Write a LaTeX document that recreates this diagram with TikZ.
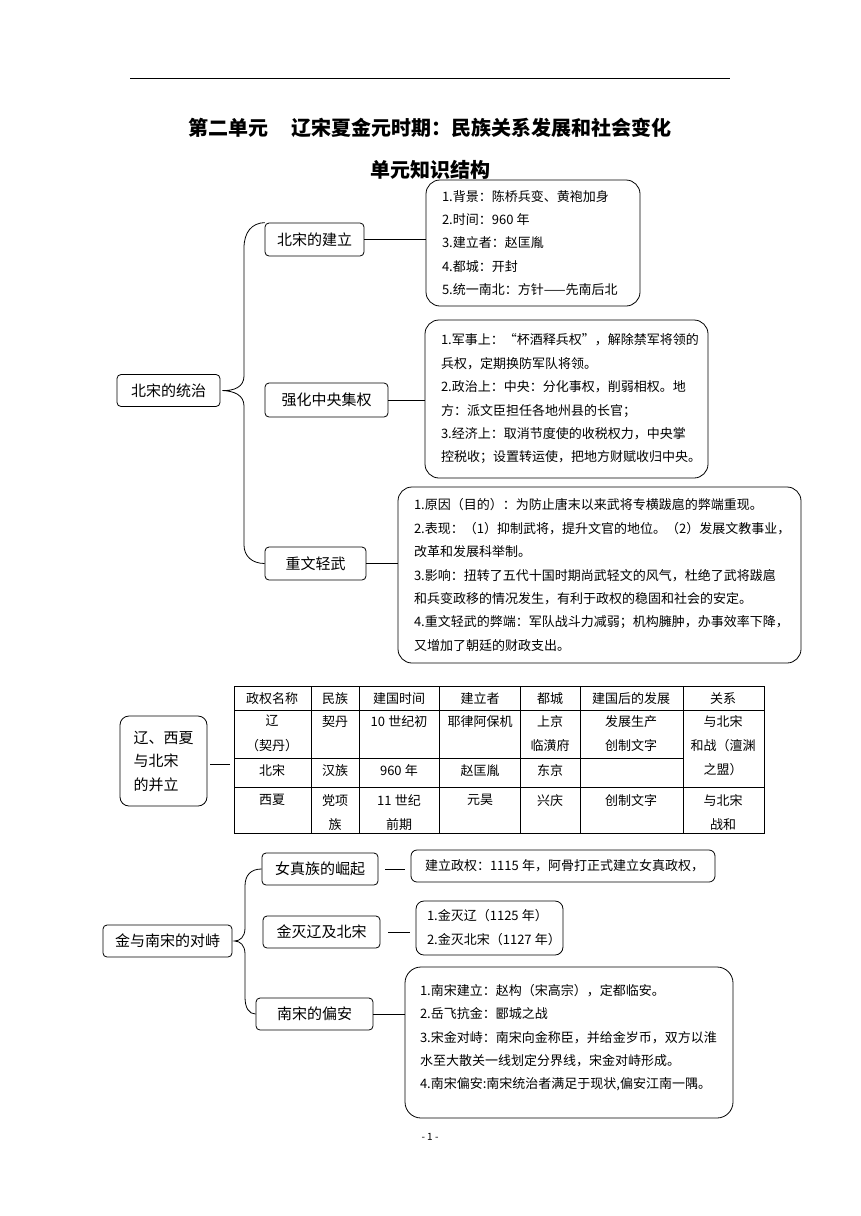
\documentclass[tikz,border=0pt]{standalone}
\usepackage{fontspec}
\setmainfont{Noto Sans CJK SC}
\newcommand{\cjsp}{\kern0.25em}

\begin{document}
\begin{tikzpicture}[x=1pt, y=-1pt,
    topic/.style={draw, line width=0.8pt, rounded corners=4pt, inner sep=0pt,
                  minimum height=32pt, font=\fontsize{15}{18}\selectfont},
    detail/.style={draw, line width=0.8pt, rounded corners=14pt, align=left,
                   inner ysep=0pt, font=\fontsize{13}{23.4}\selectfont},
    cell/.style={anchor=north, inner sep=0pt, align=center,
                 font=\fontsize{13}{24.3}\selectfont},
    link/.style={line width=0.8pt},
    brace/.style={line width=0.8pt}
]
    \useasboundingbox (0,0) rectangle (860,1216);
    \draw[line width=0.8pt] (130,78) -- (730,78);
    \node[font=\fontsize{20}{23}\selectfont\bfseries] (title) at (430,128)
        {第二单元\hspace{1.2em}辽宋夏金元时期：民族关系发展和社会变化};
    \node[font=\fontsize{20}{23}\selectfont\bfseries] (subtitle) at (430,170) {单元知识结构};

    % 北宋的统治
    \node[topic, minimum width=103pt] (song) at (168.5,390.5) {北宋的统治};
    \node[topic, minimum width=99pt, minimum height=33pt] (found) at (314.5,239.5) {北宋的建立};
    \node[topic, minimum width=123pt, minimum height=34pt] (central) at (326.5,400) {强化中央集权};
    \node[topic, minimum width=101pt, minimum height=33pt] (civil) at (315.5,563.5) {重文轻武};

    \node[detail, text width=182pt, inner xsep=16pt, minimum height=126pt] (foundinfo) at (533,243)
        {1.背景：陈桥兵变、黄袍加身\\2.时间：960\cjsp 年\\3.建立者：赵匡胤\\4.都城：开封\\5.统一南北：方针——先南后北};
    \node[detail, text width=251pt, inner xsep=16pt, minimum height=158pt] (centralinfo) at (566.5,399)
        {1.军事上：“杯酒释兵权”，解除禁军将领的\\兵权，定期换防军队将领。\\2.政治上：中央：分化事权，削弱相权。地\\方：派文臣担任各地州县的长官；\\3.经济上：取消节度使的收税权力，中央掌\\控税收；设置转运使，把地方财赋收归中央。};
    \node[detail, text width=371pt, inner xsep=16pt, minimum height=176pt] (civilinfo) at (599.5,575)
        {1.原因（目的）：为防止唐末以来武将专横跋扈的弊端重现。\\2.表现：（1）抑制武将，提升文官的地位。（2）发展文教事业，\\改革和发展科举制。\\3.影响：扭转了五代十国时期尚武轻文的风气，杜绝了武将跋扈\\和兵变政移的情况发生，有利于政权的稳固和社会的安定。\\4.重文轻武的弊端：军队战斗力减弱；机构臃肿，办事效率下降，\\又增加了朝廷的财政支出。};

    \draw[link] (found.east) -- (found.east -| foundinfo.west);
    \draw[link] (central.east) -- (central.east -| centralinfo.west);
    \draw[link] (civil.east) -- (civil.east -| civilinfo.west);
    \draw[brace] (found.north west) .. controls (252,223) and (244,232) .. (244,248)
        -- (244,376) .. controls (244,387) and (234,391) .. ([xshift=2pt]song.east)
        .. controls (234,391) and (244,395) .. (244,406)
        -- (244,545) .. controls (244,556) and (252,563.5) .. (civil.west);

    % 辽、西夏与北宋的并立
    \node[topic, minimum width=87pt, minimum height=90pt, rounded corners=9pt, align=left,
          font=\fontsize{15}{23.5}\selectfont] (coexist) at (163.5,761) {辽、西夏\\与北宋\\的并立};
    \node[draw, line width=0.7pt, inner sep=0pt, minimum width=530pt, minimum height=147pt] (tbl) at (499,759.5) {};
    \draw[link, shorten <=3pt, shorten >=4pt] ([yshift=-3pt]coexist.east) -- ([yshift=-3pt]coexist.east -| tbl.west);
    \foreach \x in {311,359,439,520,580,683}
        \draw[line width=0.7pt] (\x,686) -- (\x,833);
    \draw[line width=0.7pt] (234,710) -- (764,710) (234,758) -- (683,758) (234,787) -- (764,787);

    \foreach \x/\t [count=\i] in {272/政权名称, 335/民族, 399/建国时间, 480/建立者, 550/都城, 631/建国后的发展, 723/关系}
        \node[cell] (head\i) at (\x,692) {\t};
    \foreach \x/\t [count=\i] in {272/{辽\\（契丹）}, 335/契丹, 399/{10\cjsp 世纪初}, 480/耶律阿保机,
                                  550/{上京\\临潢府}, 631/{发展生产\\创制文字}, 723/{与北宋\\和战（澶渊\\之盟）}}
        \node[cell] (liao\i) at (\x,715) {\t};
    \foreach \x/\t [count=\i] in {272/北宋, 335/汉族, 399/{960\cjsp 年}, 480/赵匡胤, 550/东京}
        \node[cell] (bsong\i) at (\x,764) {\t};
    \foreach \x/\t [count=\i] in {272/西夏, 335/{党项\\族}, 399/{11\cjsp 世纪\\前期}, 480/元昊,
                                  550/兴庆, 631/创制文字, 723/{与北宋\\战和}}
        \node[cell] (xixia\i) at (\x,794) {\t};

    % 金与南宋的对峙
    \node[topic, minimum width=129pt] (jin) at (167.5,941) {金与南宋的对峙};
    \node[topic, minimum width=116pt] (rise) at (320,869) {女真族的崛起};
    \node[topic, minimum width=117pt] (conquer) at (321.5,932) {金灭辽及北宋};
    \node[topic, minimum width=117pt] (south) at (314.5,1014) {南宋的偏安};

    \node[detail, rounded corners=6pt, text width=276pt, inner xsep=14pt, minimum height=32pt] (riseinfo) at (563,866)
        {建立政权：1115\cjsp 年，阿骨打正式建立女真政权，};
    \node[detail, rounded corners=8pt, text width=125pt, inner xsep=11pt, minimum height=54pt,
          font=\fontsize{13}{24}\selectfont] (conquerinfo) at (489.5,928)
        {1.金灭辽（1125\cjsp 年）\\2.金灭北宋（1127\cjsp 年）};
    \node[detail, rounded corners=16pt, text width=298pt, inner xsep=15pt, minimum height=151pt] (southinfo) at (569,1042.5)
        {1.南宋建立：赵构（宋高宗），定都临安。\\2.岳飞抗金：郾城之战\\3.宋金对峙：南宋向金称臣，并给金岁币，双方以淮\\水至大散关一线划定分界线，宋金对峙形成。\\4.南宋偏安:南宋统治者满足于现状,偏安江南一隅。\rule[-12pt]{0pt}{12pt}};

    \draw[link, shorten <=7pt, shorten >=6pt] (rise.east) -- (rise.east -| riseinfo.west);
    \draw[link, shorten <=8pt, shorten >=6pt] (conquer.east) -- (conquer.east -| conquerinfo.west);
    \draw[link] (south.east) -- (south.east -| southinfo.west);
    \draw[brace] (rise.west) .. controls (251,869) and (245,875) .. (245,886)
        -- (245,928) .. controls (245,937) and (240,941) .. ([xshift=2pt]jin.east)
        .. controls (240,941) and (245,945) .. (245,954)
        -- (245,997) .. controls (245,1008) and (249,1014) .. (south.west);

    \node[font=\fontsize{10}{12}\selectfont] (page) at (430,1137) {- 1 -};
\end{tikzpicture}
\end{document}
